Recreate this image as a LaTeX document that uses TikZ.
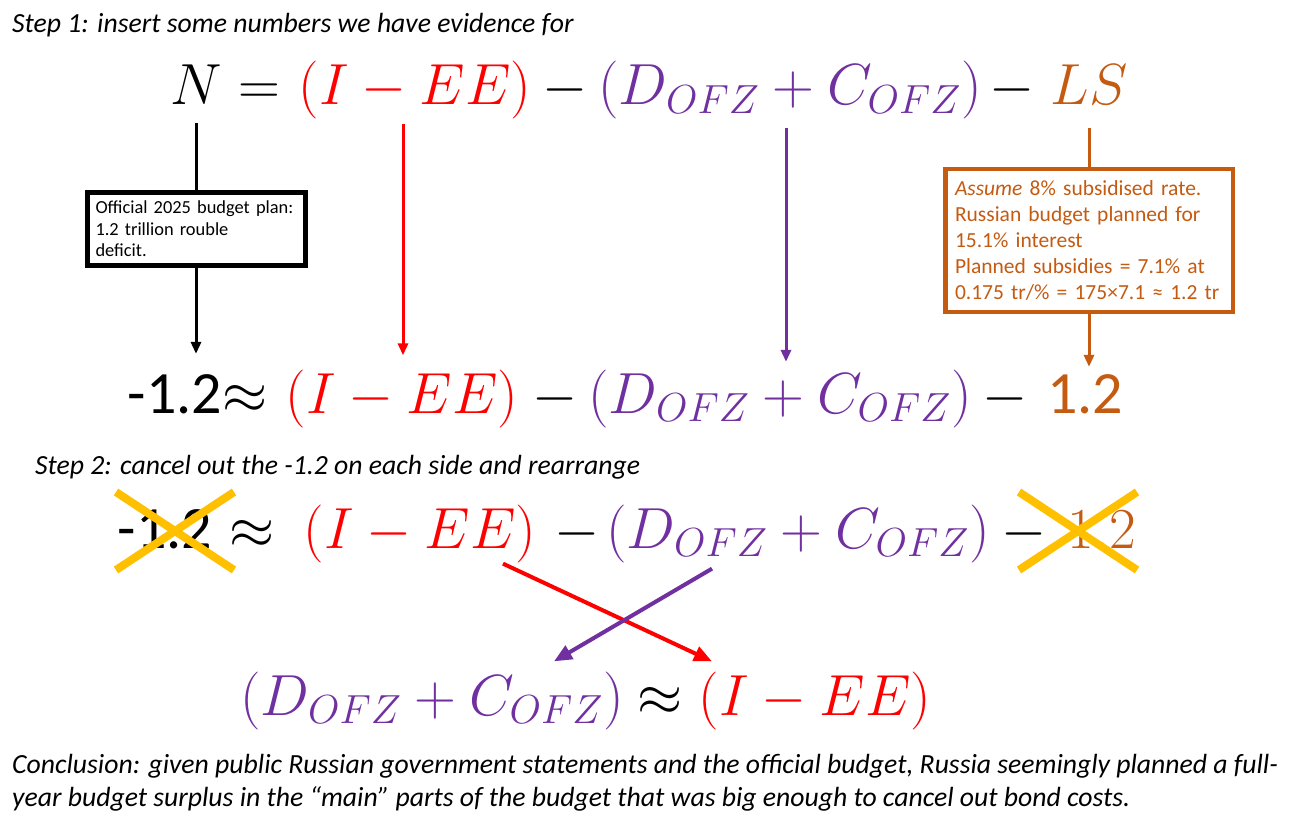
\RequirePackage{fix-cm}
\documentclass[tikz,border=0pt]{standalone}
\usepackage{fontspec}
\setmainfont{Carlito}
\usetikzlibrary{positioning, arrows.meta, calc, shapes.misc}
\definecolor{eqred}{HTML}{FF0000}
\definecolor{eqpurple}{HTML}{7030A0}
\definecolor{eqorange}{HTML}{C55A11}
\definecolor{eqyellow}{HTML}{FFC000}
\newcommand{\eqfont}{\fontsize{58}{60}\selectfont}
\newcommand{\numfont}{\fontsize{60}{62}\selectfont}

\begin{document}
\begin{tikzpicture}[x=1pt, y=-1pt,
    >={Triangle[length=12pt, width=10pt]}, % filled triangle tips
    eq/.style={inner sep=0pt, anchor=base, font=\eqfont},
    num/.style={inner sep=0pt, anchor=base, font=\numfont},
    note/.style={inner sep=0pt, anchor=base west, font=\fontsize{27.7}{33}\selectfont\itshape},
    infobox/.style={draw, fill=white, align=left, inner ysep=0pt},
    xmark/.style={cross out, draw=eqyellow, line width=8pt, minimum width=110pt, minimum height=70pt, inner sep=0pt}
]
\useasboundingbox (0,0) rectangle (1303,821);

% 1. Step 1: the identity
\node[note] (step1) at (12,33) {Step 1: insert some numbers we have evidence for};
\node[eq] (tN) at (196,105) {$N$};
\node[eq] (tEq) at (259,105) {$=$};
\node[eq, text=eqred] (tIE) at (415,105) {$(I-EE)$};
\node[eq] (tM1) at (565,105) {$-$};
\node[eq, text=eqpurple] (tDC) at (790,105) {$(D_{OFZ}+C_{OFZ})$};
\node[eq] (tM2) at (1012,105) {$-$};
\node[eq, text=eqorange] (tLS) at (1089,105) {$LS$};

% 2. The same line with the numbers filled in
\node[num] (bNum) at (175,413) {-1.2};
\node[eq] (bAp) at (245,413) {$\approx$};
\node[eq, text=eqred] (bIE) at (402,413) {$(I-EE)$};
\node[eq] (bM1) at (555,413) {$-$};
\node[eq, text=eqpurple] (bDC) at (780,413) {$(D_{OFZ}+C_{OFZ})$};
\node[eq] (bM2) at (1005,413) {$-$};
\node[num, text=eqorange] (bLS) at (1085,413) {1.2};

% 3. Evidence boxes
\node[infobox, line width=5pt, text width=201pt, inner xsep=8.5pt, minimum height=73pt,
      font=\fontsize{18.4}{21.5}\selectfont] (bbox) at (196,229)
      {Official 2025 budget plan:\\1.2 trillion rouble\\deficit.};
\node[infobox, draw=eqorange, text=eqorange, line width=4.5pt, text width=268pt, inner xsep=9.75pt, minimum height=143pt,
      font=\fontsize{21.5}{26.2}\selectfont] (obox) at (1089,240.5)
      {\textit{Assume} 8\% subsidised rate.\\Russian budget planned for\\15.1\% interest\\Planned subsidies = 7.1\% at\\0.175 tr/\% = 175×7.1 ≈ 1.2 tr};

% 4. Vertical arrows from the identity down to the numbers
\draw[line width=3pt] ($(tN.south)+(0,18)$) -- (bbox.north);
\draw[->, line width=3pt] (bbox.south) -- ($(bbox.south |- bNum.north)+(0,-20)$);
\draw[->, eqred, line width=3pt] ($(tIE.south)+(-12,4)$) -- ($(tIE.south |- bIE.north)+(-12,-14)$);
\draw[->, eqpurple, line width=3pt] ($(tDC.south)+(-4,8.5)$) -- ($(tDC.south |- bDC.north)+(-4,-7.5)$);
\draw[eqorange, line width=3pt] ($(tLS.south)+(0,23)$) -- (obox.north);
\draw[->, eqorange, line width=3pt] (obox.south) -- ($(obox.south |- bLS.north)+(0,-7)$);

% 5. Step 2: cancel and rearrange
\node[note] (step2) at (35,474) {Step 2: cancel out the -1.2 on each side and rearrange};
\node[num] (cNum) at (165,548) {-1.2};
\node[eq] (cAp) at (252,548) {$\approx$};
\node[eq, text=eqred] (cIE) at (420,548) {$(I-EE)$};
\node[eq] (cM1) at (577,548) {$-$};
\node[eq, text=eqpurple] (cDC) at (798,548) {$(D_{OFZ}+C_{OFZ})$};
\node[eq] (cM2) at (1024,548) {$-$};
\node[eq, text=eqorange] (cLS) at (1102,548) {$1.2$};
\node[xmark] (x1) at (175,531) {};
\node[xmark] (x2) at (1078,531) {};

% 6. Result
\node[eq, text=eqpurple] (dDC) at (432,715) {$(D_{OFZ}+C_{OFZ})$};
\node[eq] (dAp) at (660,715) {$\approx$};
\node[eq, text=eqred] (dIE) at (815,715) {$(I-EE)$};
\draw[->, eqred, line width=4pt, >={Triangle[length=18pt, width=15pt]}]
    ($(cIE.south)+(83,1)$) -- ($(dIE.north)+(-103,-10)$);
\draw[->, eqpurple, line width=4pt, >={Triangle[length=18pt, width=15pt]}]
    ($(cDC.south)+(-86,6)$) -- ($(dDC.north)+(122,-10)$);

% 7. Conclusion
\node[note] (conc1) at (12,773) {Conclusion: given public Russian government statements and the official budget, Russia seemingly planned a full-};
\node[note] (conc2) at (12,806) {year budget surplus in the “main” parts of the budget that was big enough to cancel out bond costs.};

\end{tikzpicture}
\end{document}
